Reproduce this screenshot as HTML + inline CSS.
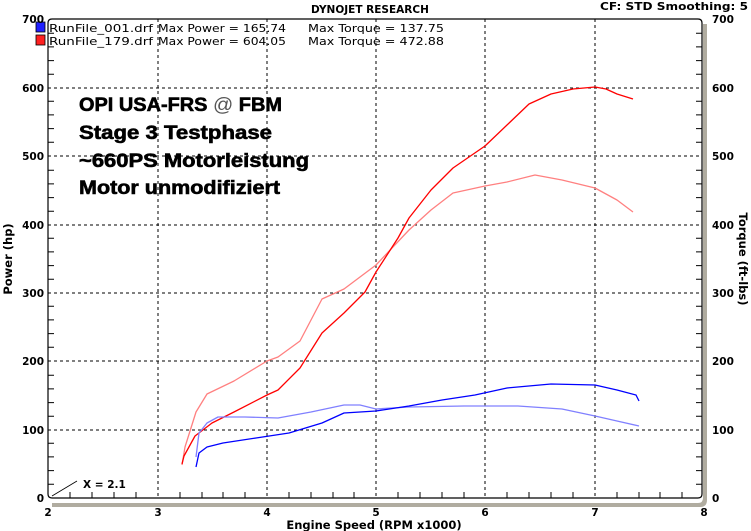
<!DOCTYPE html>
<html><head><meta charset="utf-8"><style>
body{margin:0;background:#fff;}
svg{display:block;font-family:"DejaVu Sans","Liberation Sans",sans-serif;font-weight:bold;}
</style></head><body>
<svg width="751" height="531" viewBox="0 0 751 531" xmlns="http://www.w3.org/2000/svg">
<rect width="751" height="531" fill="#fff"/>
<path d="M703,24 V498 Q703,503 698,503 H52 V507 H700 Q707,507 707,500 V24 Z" fill="#b0aca0"/>
<path d="M52,19 H698 Q702,19 702,23 V494 Q702,498 698,498 H52 Q48,498 48,494 V23 Q48,19 52,19 Z" fill="#fff" stroke="#000" stroke-width="1.2"/>
<g stroke="#000" stroke-width="1" stroke-dasharray="3,3">
<line x1="158" y1="19" x2="158" y2="498"/><line x1="267" y1="19" x2="267" y2="498"/>
<line x1="376" y1="19" x2="376" y2="498"/><line x1="485" y1="19" x2="485" y2="498"/>
<line x1="595" y1="19" x2="595" y2="498"/>
<line x1="48" y1="430" x2="702" y2="430"/><line x1="48" y1="361" x2="702" y2="361"/>
<line x1="48" y1="293" x2="702" y2="293"/><line x1="48" y1="225" x2="702" y2="225"/>
<line x1="48" y1="156" x2="702" y2="156"/><line x1="48" y1="88" x2="702" y2="88"/>
</g>
<g stroke="#000" stroke-width="1">
<path d="M48,484.3h6M48,470.6h6M48,456.9h6M48,443.2h6M48,416.3h6M48,402.6h6M48,388.9h6M48,375.2h6M48,347.3h6M48,333.6h6M48,319.9h6M48,306.2h6M48,279.3h6M48,265.6h6M48,251.9h6M48,238.2h6M48,211.3h6M48,197.6h6M48,183.9h6M48,170.2h6M48,142.3h6M48,128.6h6M48,114.9h6M48,101.2h6M48,74.3h6M48,60.6h6M48,46.9h6M48,33.2h6"/>
<path d="M702,484.3h-6M702,470.6h-6M702,456.9h-6M702,443.2h-6M702,416.3h-6M702,402.6h-6M702,388.9h-6M702,375.2h-6M702,347.3h-6M702,333.6h-6M702,319.9h-6M702,306.2h-6M702,279.3h-6M702,265.6h-6M702,251.9h-6M702,238.2h-6M702,211.3h-6M702,197.6h-6M702,183.9h-6M702,170.2h-6M702,142.3h-6M702,128.6h-6M702,114.9h-6M702,101.2h-6M702,74.3h-6M702,60.6h-6M702,46.9h-6M702,33.2h-6"/>
<path d="M70,498v-6M92,498v-6M114,498v-6M136,498v-6M180,498v-6M202,498v-6M223,498v-6M245,498v-6M289,498v-6M311,498v-6M333,498v-6M354,498v-6M398,498v-6M420,498v-6M442,498v-6M464,498v-6M507,498v-6M529,498v-6M551,498v-6M573,498v-6M617,498v-6M639,498v-6M660,498v-6M682,498v-6"/>
</g>
<g fill="none" stroke-width="1.3" stroke-linejoin="round">
<polyline stroke="#ff8080" points="182,465 185,447 196,412 207,394 234,381 267,361 278,357 300,341 322,299 344,289 376,265 409,230 431,210 453,193 485,186 507,182 535,175 562,180 595,188 617,200 633,212"/>
<polyline stroke="#ff0000" points="182,464 184,456 195,436 212,423 234,412 267,395 278,390 300,368 322,333 344,313 365,292 376,272 398,238 409,218 431,190 453,168 485,146 507,125 529,104 551,94 573,89 595,87 606,89 617,94 633,99"/>
<polyline stroke="#8080ff" points="196,457 199,433 207,423 218,417 245,417 278,418 311,412 344,405 360,405 376,409 409,407 464,406 518,406 562,409 595,416 617,421 639,426"/>
<polyline stroke="#0000ff" points="196,467 199,453 207,447 223,443 256,438 289,433 322,423 344,413 376,411 409,406 442,400 475,395 507,388 551,384 595,385 617,390 636,395 639,401"/>
</g>
<rect x="36" y="22" width="9" height="10" fill="#2020ff" stroke="#000" stroke-width="0.8"/>
<rect x="36" y="35" width="9" height="10" fill="#ff2020" stroke="#000" stroke-width="0.8"/>
<g font-size="11" fill="#000" font-weight="normal">
<text x="49" y="32" textLength="104" lengthAdjust="spacingAndGlyphs">RunFile_001.drf</text>
<text x="158" y="32" textLength="128" lengthAdjust="spacingAndGlyphs">Max Power = 165.74</text>
<text x="308" y="32" textLength="136" lengthAdjust="spacingAndGlyphs">Max Torque = 137.75</text>
<text x="49" y="45" textLength="104" lengthAdjust="spacingAndGlyphs">RunFile_179.drf</text>
<text x="158" y="45" textLength="128" lengthAdjust="spacingAndGlyphs">Max Power = 604.05</text>
<text x="308" y="45" textLength="136" lengthAdjust="spacingAndGlyphs">Max Torque = 472.88</text>
</g>
<g font-size="10.5" fill="#000">
<text x="311" y="13">DYNOJET RESEARCH</text>
<text x="600" y="10" textLength="148" lengthAdjust="spacingAndGlyphs">CF: STD  Smoothing: 5</text>
</g>
<g font-size="10.5" fill="#000" text-anchor="end">
<text x="44" y="502">0</text><text x="44" y="434">100</text><text x="44" y="365">200</text>
<text x="44" y="297">300</text><text x="44" y="229">400</text><text x="44" y="160">500</text>
<text x="44" y="92">600</text><text x="44" y="23">700</text>
</g>
<g font-size="10.5" fill="#000">
<text x="712" y="502">0</text><text x="712" y="434">100</text><text x="712" y="365">200</text>
<text x="712" y="297">300</text><text x="712" y="229">400</text><text x="712" y="160">500</text>
<text x="712" y="92">600</text><text x="712" y="23">700</text>
</g>
<g font-size="10.5" fill="#000" text-anchor="middle">
<text x="48" y="516">2</text><text x="158" y="516">3</text><text x="267" y="516">4</text>
<text x="376" y="516">5</text><text x="485" y="516">6</text><text x="595" y="516">7</text><text x="704" y="516">8</text>
<text x="374" y="529" font-size="11.5">Engine Speed (RPM x1000)</text>
<text transform="translate(12,259) rotate(-90)" font-size="11.5">Power (hp)</text>
<text transform="translate(739,259) rotate(90)" font-size="11.5">Torque (ft-lbs)</text>
</g>
<line x1="52" y1="496" x2="77" y2="481" stroke="#000" stroke-width="0.8"/>
<text x="83" y="488" font-size="10.5" fill="#000">X = 2.1</text>
<g font-family="Liberation Sans, sans-serif" font-size="19" font-weight="bold" fill="#000" stroke="#000" stroke-width="0.6">
<text x="79" y="111" textLength="203" lengthAdjust="spacingAndGlyphs">OPI USA-FRS <tspan font-weight="normal" fill="#555" stroke="none">@</tspan> FBM</text>
<text x="79" y="139" textLength="193" lengthAdjust="spacingAndGlyphs">Stage 3 Testphase</text>
<text x="79" y="167" textLength="230" lengthAdjust="spacingAndGlyphs">~660PS Motorleistung</text>
<text x="79" y="194" textLength="201" lengthAdjust="spacingAndGlyphs">Motor unmodifiziert</text>
</g>
</svg>
</body></html>
